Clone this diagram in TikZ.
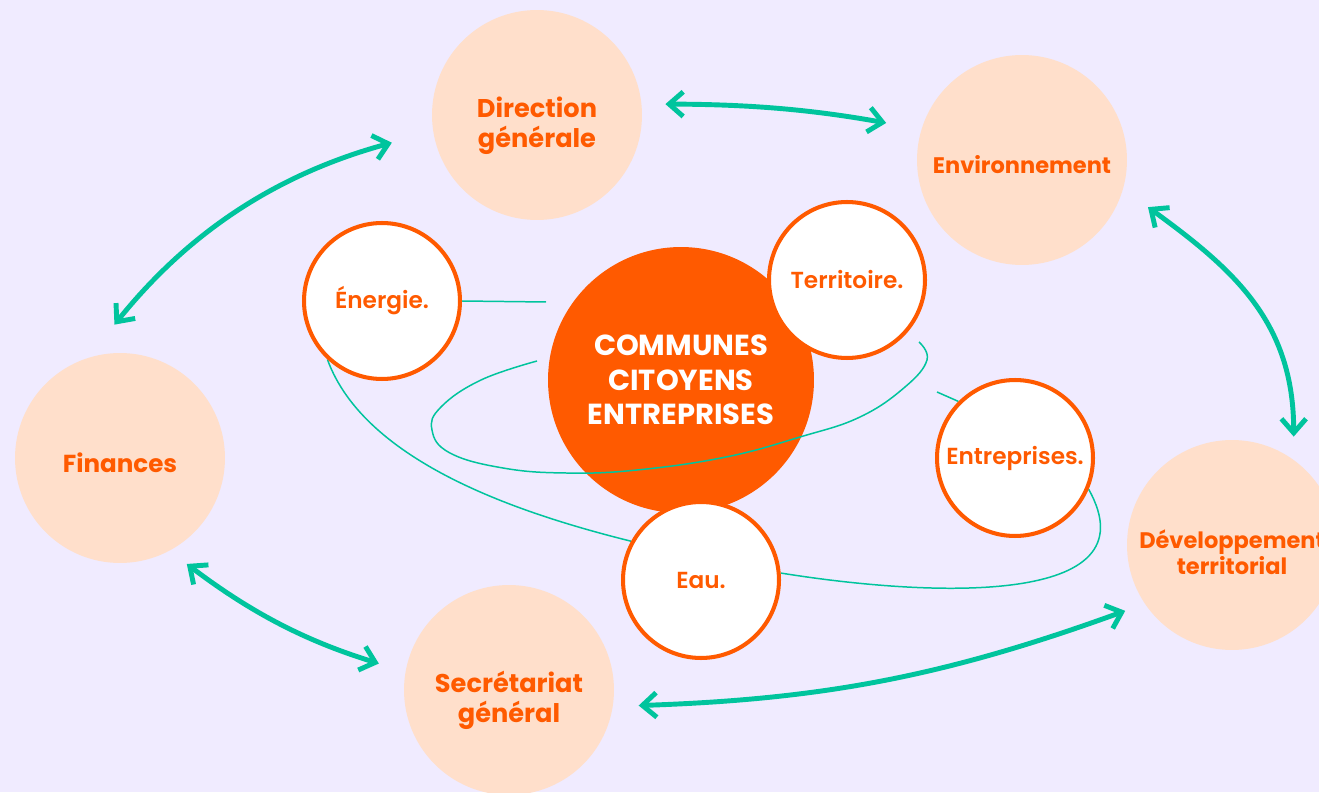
\documentclass[tikz,border=0pt]{standalone}
\usepackage{fontspec}
\setmainfont{Poppins}
\newfontfamily\popsemi{Poppins SemiBold}
\usetikzlibrary{arrows.meta,backgrounds}
\definecolor{lilac}{HTML}{F0EBFF}
\definecolor{peach}{HTML}{FFDFCB}
\definecolor{flame}{HTML}{FF5A00}
\definecolor{mint}{HTML}{00C49D}
\begin{document}
\begin{tikzpicture}[x=0.02cm, y=0.02cm,
  pale/.style={circle, fill=peach, minimum size=4.2cm, inner sep=0, outer sep=0},
  tag/.style 2 args={text=flame, align=center, inner sep=0, font=\bfseries\fontsize{#1}{#2}\selectfont},
  ring/.style={circle, fill=white, draw=flame, line width=2.3pt, minimum size=3.12cm, inner sep=0, text=flame, font=\popsemi\fontsize{13.2}{15}\selectfont},
  orbit/.style={mint, line width=0.85pt},
  link/.style={mint, line width=2.8pt, {Straight Barb[length=8pt,width=14pt]}-{Straight Barb[length=8pt,width=14pt]}}]
\begin{scope}[on background layer]
\fill[lilac] (0,0) rectangle (1319,792);
\end{scope}
\useasboundingbox (0,0) rectangle (1319,792);
\clip (0,0) rectangle (1319,792);
% services
\node[pale] (dir) at (537,677) {};
\node[pale] (env) at (1022,632) {};
\node[pale] (fin) at (120,334) {};
\node[pale] (sec) at (509,102) {};
\node[pale] (dev) at (1232,247) {};
\node[tag={14.6}{17}] (dirtxt) at ([yshift=-0.22cm]dir) {Direction\\générale};
\node[tag={12.8}{15}] (envtxt) at ([yshift=-0.1cm]env) {Environnement};
\node[tag={14}{16}] (fintxt) at ([yshift=-0.1cm]fin) {Finances};
\node[tag={14.6}{17}] (sectxt) at ([yshift=-0.2cm]sec) {Secrétariat\\général};
\node[tag={12.8}{14.8}] (devtxt) at ([yshift=-0.15cm]dev) {Développement\\territorial};
% centre
\node[circle, fill=flame, minimum size=5.32cm, inner sep=0, text=white, align=center, font=\bfseries\fontsize{16.5}{19.6}\selectfont] (core) at (681,412) {COMMUNES\\CITOYENS\\ENTREPRISES};
\draw[orbit] plot[smooth, tension=0.7] coordinates {(537,431) (481,412) (441,385) (432,362) (450,339) (503,324) (566,319) (637,322) (726,335) (800,355) (860,375) (905,405) (927,432) (919,450)};
% themes
\node[ring] (ener) at (382,491) {Énergie.};
\node[ring] (terr) at (847,512) {Territoire.};
\node[ring] (entr) at (1015,334) {Entreprises.};
\node[ring] (eau) at (701,212) {Eau.};
\coordinate (enerend) at (546,490);
\coordinate (entrend) at (937,400);
\begin{scope}[on background layer]
\draw[orbit] (ener.east) -- (enerend);
\draw[orbit] (ener.227) to[out=-70, in=166, looseness=0.8] (eau.151);
\draw[orbit] (eau.5) .. controls +(149,-24) and +(66,-118) .. (entr.-23);
\draw[orbit] (entrend) -- (entr.135);
\end{scope}
% liens
\draw[link, shorten <=0.48cm, shorten >=0.72cm] (dir.6) to[bend left=5] (env.163);
\draw[link, shorten <=0.86cm, shorten >=0.86cm] (dir.189) to[bend right=18] (fin.108);
\draw[link, shorten <=0.62cm, shorten >=0.47cm] (env.-16) to[out=-36, in=90, looseness=1.1] (dev.54);
\draw[link, shorten <=0.44cm, shorten >=0.56cm] (fin.-62) to[bend right=10] (sec.170);
\draw[link, shorten <=0.52cm, shorten >=0.42cm] (sec.-9) to[bend right=9] (dev.214);
\end{tikzpicture}
\end{document}
